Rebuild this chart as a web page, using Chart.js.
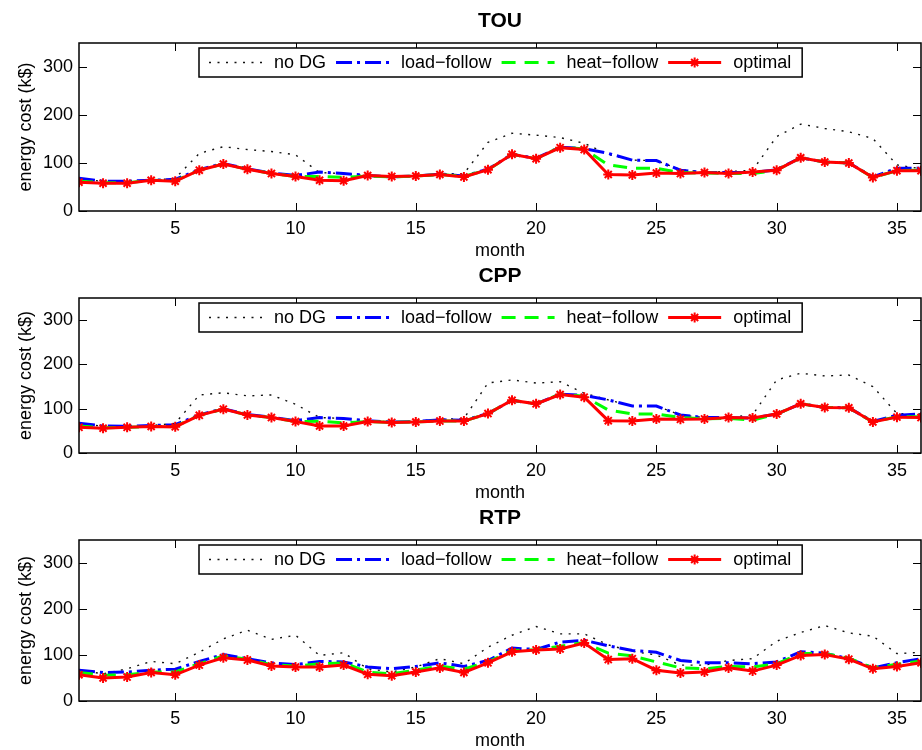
<!DOCTYPE html>
<html>
<head>
<meta charset="utf-8">
<script src="https://cdn.jsdelivr.net/npm/chart.js@4.4.0/dist/chart.umd.min.js"></script>
<style>
html, body { margin: 0; padding: 0; background: #fff; overflow: hidden; }
.panel { position: absolute; left: 0; width: 922px; }
</style>
</head>
<body>
<div class="panel" style="top:0px;height:265px"><canvas id="tou"></canvas></div>
<div class="panel" style="top:255px;height:252px"><canvas id="cpp"></canvas></div>
<div class="panel" style="top:497px;height:258px"><canvas id="rtp"></canvas></div>
<script>
// months on the x axis
var months = [1,2,3,4,5,6,7,8,9,10,11,12,13,14,15,16,17,18,19,20,21,22,23,24,25,26,27,28,29,30,31,32,33,34,35,36];
var xTicks = [5, 10, 15, 20, 25, 30, 35];
var yTicks = [0, 100, 200, 300];
var seriesNames = ['no DG', 'load\u2212follow', 'heat\u2212follow', 'optimal'];

// TOU
var touNoDG   = [66,62,62,64,68,120,134,128,124,117,80,78,74,71,73,77,78,143,162,158,153,141,118,106,105,86,81,82,85,155,181,172,165,151,96,88];
var touLoad   = [68,62,62,64,66,86,99,88,79,74,81,78,74,71,73,77,73,87,118,110,133,130,120,106,105,85,80,80,80,86,111,102,100,71,89,89];
var touHeat   = [62,59,59,64,63,85,98,87,78,72,72,70,73,71,73,76,72,86,118,109,133,129,96,89,89,80,79,78,78,85,111,102,100,70,84,85];
var touOpt    = [60,58,58,64,62,85,98,87,78,72,64,63,74,72,73,76,71,86,118,109,132,128,76,75,79,78,80,78,81,85,111,102,100,70,84,84];

// CPP
var cppNoDG   = [65,61,60,62,67,131,136,129,131,110,80,78,73,70,72,76,78,158,165,158,161,135,120,106,106,86,80,80,86,165,180,174,176,150,89,88];
var cppLoad   = [67,61,60,62,64,86,100,87,81,73,80,78,73,70,71,75,74,89,119,111,133,130,120,106,106,86,80,80,79,88,111,103,102,71,85,88];
var cppHeat   = [61,57,58,60,60,85,99,86,80,71,72,68,71,69,70,72,72,89,119,111,133,128,97,88,88,80,77,78,74,88,111,103,102,70,82,82];
var cppOpt    = [58,56,58,60,59,85,99,86,80,71,61,61,71,69,70,72,72,89,119,111,132,126,73,72,77,76,77,80,79,88,111,103,102,70,81,80];

// RTP
var rtpNoDG   = [67,59,70,86,81,106,135,154,134,143,99,105,70,63,74,92,81,117,143,162,146,146,122,108,100,78,78,88,92,130,149,164,148,141,103,106];
var rtpLoad   = [67,62,63,67,69,86,101,92,83,79,86,85,74,70,75,83,75,88,115,112,128,132,120,110,106,88,83,83,81,85,107,104,92,72,83,92];
var rtpHeat   = [62,56,57,63,63,81,98,91,79,76,81,83,63,59,67,76,69,85,110,111,119,127,104,98,85,72,70,75,74,81,103,103,93,72,80,87];
var rtpOpt    = [57,50,52,62,57,78,94,89,76,74,74,78,58,55,63,72,62,83,107,111,113,126,90,92,67,61,63,72,65,78,99,101,91,70,75,83];

Chart.defaults.font.family = '"Liberation Sans", Arial, Helvetica, sans-serif';
Chart.defaults.font.size = 18;
Chart.defaults.color = '#000';

function pts(arr) {
  return months.map(function(m, i) { return {x: m, y: arr[i]}; });
}

function drawStar(ctx, x, y, r) {
  ctx.beginPath();
  for (var k = 0; k < 4; k++) {
    var ang = k * Math.PI / 4;
    ctx.moveTo(x - Math.cos(ang) * r, y - Math.sin(ang) * r);
    ctx.lineTo(x + Math.cos(ang) * r, y + Math.sin(ang) * r);
  }
  ctx.stroke();
}

// matlab style box, inward ticks, title over the axes and boxed legend
var matlabBox = {
  id: 'matlabBox',
  afterDatasetsDraw: function(chart, args, opts) {
    var ctx = chart.ctx, a = chart.chartArea;
    var x = chart.scales.x, y = chart.scales.y;
    ctx.save();
    ctx.strokeStyle = '#000';
    ctx.lineWidth = 1.5;
    ctx.strokeRect(a.left, a.top, a.right - a.left, a.bottom - a.top);
    ctx.lineWidth = 1;
    ctx.beginPath();
    xTicks.forEach(function(v) {
      var px = Math.round(x.getPixelForValue(v)) + 0.5;
      ctx.moveTo(px, a.bottom); ctx.lineTo(px, a.bottom - 8);
      ctx.moveTo(px, a.top); ctx.lineTo(px, a.top + 8);
    });
    yTicks.forEach(function(v) {
      var py = Math.round(y.getPixelForValue(v)) + 0.5;
      ctx.moveTo(a.left, py); ctx.lineTo(a.left + 8, py);
      ctx.moveTo(a.right, py); ctx.lineTo(a.right - 8, py);
    });
    ctx.stroke();

    // title
    ctx.fillStyle = '#000';
    ctx.textAlign = 'center';
    ctx.textBaseline = 'middle';
    ctx.font = 'bold 21px "Liberation Sans", Arial, Helvetica, sans-serif';
    ctx.fillText(opts.title, (a.left + a.right) / 2, a.top - 22);

    // legend
    var ds = chart.data.datasets;
    ctx.font = '18px "Liberation Sans", Arial, Helvetica, sans-serif';
    var widths = ds.map(function(d) { return ctx.measureText(d.label).width; });
    var total = 10 + ds.length * (53 + 12) + widths.reduce(function(s, w) { return s + w; }, 0) + (ds.length - 1) * 10 + 11;
    var bx = Math.round((a.left + a.right) / 2 - total / 2) + 1;
    var by = Math.round(a.top + 5), bh = 29;
    ctx.fillStyle = '#fff';
    ctx.fillRect(bx, by, total, bh);
    ctx.lineWidth = 1.5;
    ctx.strokeStyle = '#000';
    ctx.strokeRect(bx, by, total, bh);
    var cx = bx + 10, cy = by + bh / 2;
    ds.forEach(function(d, i) {
      ctx.save();
      ctx.strokeStyle = d.borderColor;
      ctx.lineWidth = d.borderWidth;
      ctx.setLineDash(d.borderDash || []);
      ctx.beginPath();
      ctx.moveTo(cx, cy); ctx.lineTo(cx + 53, cy);
      ctx.stroke();
      ctx.setLineDash([]);
      if (d.pointRadius > 0) {
        ctx.lineWidth = d.pointBorderWidth;
        drawStar(ctx, cx + 26.5, cy, d.pointRadius);
      }
      ctx.restore();
      ctx.fillStyle = '#000';
      ctx.textBaseline = 'middle';
      ctx.textAlign = 'left';
      ctx.fillText(d.label, cx + 65, cy + 1);
      cx += 65 + widths[i] + 10;
    });
    ctx.restore();
  }
};

function makeChart(id, title, noDG, load, heat, opt) {
  return new Chart(document.getElementById(id), {
    type: 'line',
    data: {
      datasets: [
        { label: seriesNames[0], data: pts(noDG), borderColor: '#111', borderWidth: 1.4, borderDash: [2, 6.5], pointRadius: 0, tension: 0, order: 4 },
        { label: seriesNames[1], data: pts(load), borderColor: '#0000ff', borderWidth: 3, borderDash: [16, 5, 3, 5], pointRadius: 0, tension: 0, order: 3 },
        { label: seriesNames[2], data: pts(heat), borderColor: '#00ff00', borderWidth: 3, borderDash: [14, 9], pointRadius: 0, tension: 0, order: 2 },
        { label: seriesNames[3], data: pts(opt), borderColor: '#ff0000', borderWidth: 3, tension: 0, order: 1,
          pointStyle: 'star', pointRadius: 5, pointBorderWidth: 2, pointBorderColor: '#ff0000', pointBackgroundColor: '#ff0000' }
      ]
    },
    options: {
      responsive: true,
      maintainAspectRatio: false,
      animation: false,
      layout: { autoPadding: false, padding: { left: 0, right: 1, top: 43, bottom: 0 } },
      plugins: {
        legend: { display: false },
        tooltip: { enabled: false },
        title: { display: false },
        matlabBox: { title: title }
      },
      scales: {
        x: {
          type: 'linear', min: 1, max: 36,
          grid: { display: false, drawTicks: false },
          border: { display: false },
          afterBuildTicks: function(s) { s.ticks = xTicks.map(function(v) { return {value: v}; }); },
          afterFit: function(s) { s.height = 54; s.paddingLeft = 0; s.paddingRight = 0; },
          ticks: { padding: 7, maxRotation: 0, autoSkip: false, color: '#000' },
          title: { display: true, text: 'month', color: '#000', padding: { top: 0, bottom: 3 } }
        },
        y: {
          min: 0, max: 350,
          grid: { display: false, drawTicks: false },
          border: { display: false },
          afterBuildTicks: function(s) { s.ticks = yTicks.map(function(v) { return {value: v}; }); },
          afterFit: function(s) { s.width = 79; s.paddingTop = 0; s.paddingBottom = 0; },
          ticks: { padding: 6, color: '#000' },
          title: { display: true, text: 'energy cost (k$)', color: '#000', padding: { top: 15, bottom: 0 } }
        }
      }
    },
    plugins: [matlabBox]
  });
}

makeChart('tou', 'TOU', touNoDG, touLoad, touHeat, touOpt);
makeChart('cpp', 'CPP', cppNoDG, cppLoad, cppHeat, cppOpt);
makeChart('rtp', 'RTP', rtpNoDG, rtpLoad, rtpHeat, rtpOpt);
</script>
</body>
</html>
